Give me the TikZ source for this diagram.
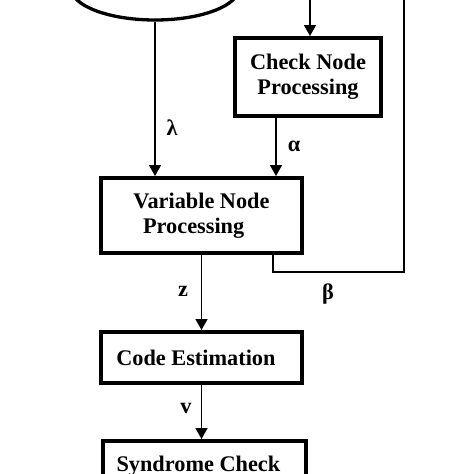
\documentclass[tikz,border=0pt]{standalone}
\usepackage{fontspec}
\setmainfont{Liberation Serif}
\usepackage{tikz}
\usetikzlibrary{arrows.meta,shapes.geometric}

\tikzset{
  box/.style={draw, line width=4pt, inner sep=0pt, align=center,
    font=\fontsize{22.3}{25}\selectfont\bfseries},
  arr/.style={line width=1.7pt, -{Triangle[width=12pt,length=11pt]}},
  fb/.style={line width=1.3pt},
  lbl/.style={font=\fontsize{22.3}{25}\selectfont\bfseries}
}

\begin{document}
\begin{tikzpicture}[x=1pt,y=-1pt]
\useasboundingbox (0,0) rectangle (474,474);
\clip (0,0) rectangle (474,474);

\node[ellipse, draw, line width=3.3pt, minimum width=168pt, minimum height=64pt] (chan) at (155,-12) {};

\node[box, minimum width=146pt, minimum height=78pt] (cnp) at (308,77) {Check Node\\Processing};
\node[box, minimum width=201pt, minimum height=75pt] (vnp) at (201.5,215.5) {Variable Node\\Processing\hspace*{0.7em}};
\node[box, minimum width=201pt, minimum height=51pt] (ce) at (201.5,357.5) {Code Estimation\hspace*{0.5em}};
\node[box, minimum width=203pt, minimum height=51pt] (sc) at (204,466.5) {Syndrome Check\hspace*{0.5em}};

\coordinate (in) at (310,0);
\coordinate (alphaX) at (276,0);
\coordinate (fbL) at (273,272);
\coordinate (fbR) at (404,272);
\coordinate (fbT) at (404,0);

\draw[arr] (chan.south) -- (chan.south |- vnp.north);
\draw[arr] (in) -- (in |- cnp.north);
\draw[arr] (cnp.south -| alphaX) -- (vnp.north -| alphaX);
\draw[arr] (vnp.south) -- (ce.north);
\draw[arr] (ce.south) -- (ce.south |- sc.north);
\draw[fb] (vnp.south -| fbL) -- (fbL) -- (fbR) -- (fbT);

\node[lbl] (lambda) at (172,128) {λ};
\node[lbl] (alpha) at (294,146) {α};
\node[lbl] (beta) at (328,294) {β};
\node[lbl] (z) at (183,291) {z};
\node[lbl] (v) at (186,408) {v};

\end{tikzpicture}
\end{document}
